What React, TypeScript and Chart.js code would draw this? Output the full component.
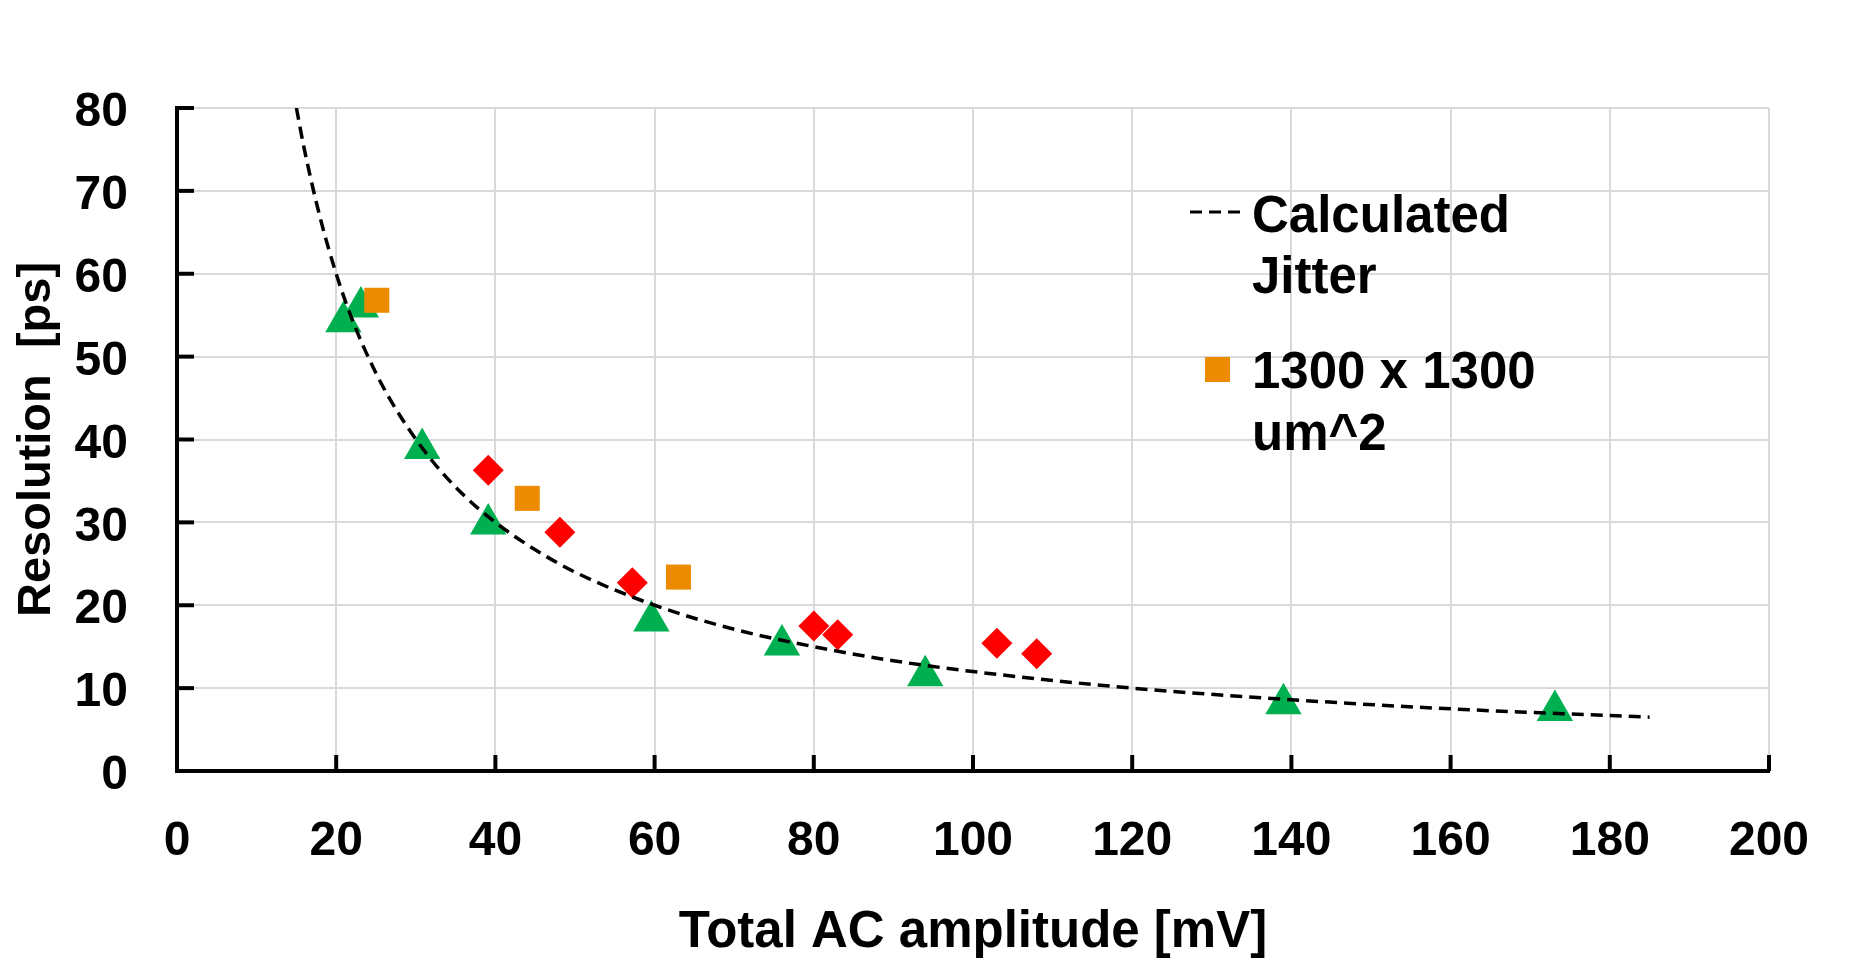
import { useEffect, useRef } from 'react';
import { Chart, registerables } from 'chart.js';

Chart.register(...registerables);

// Calculated jitter curve
const jitterX = [15, 16, 18, 20, 22, 25, 28, 32, 36, 40, 45, 50, 60, 70, 80, 90, 100, 120, 140, 160, 185];
const jitterY = [80, 75, 66.7, 60, 54.5, 48, 42.9, 37.5, 33.3, 30, 26.7, 24, 20, 17.1, 15, 13.3, 12, 10, 8.6, 7.5, 6.5];

// 1300 x 1300 um^2 (orange squares)
const squareX = [25.1, 44.0, 63.0];
const squareY = [56.8, 32.9, 23.4];

// red diamonds
const diamondX = [39.1, 48.1, 57.2, 80.0, 83.0, 103.0, 108.0];
const diamondY = [36.3, 28.8, 22.7, 17.5, 16.45, 15.4, 14.15];

// green triangles
const triangleX = [20.9, 23.1, 30.8, 39.1, 59.6, 76.0, 94.0, 139.0, 173.1];
const triangleY = [54.2, 56.0, 38.9, 29.8, 18.1, 15.2, 11.5, 8.1, 7.3];

const FONT = '"Liberation Sans", Arial, sans-serif';

const toPoints = (xs: number[], ys: number[]) => xs.map((x, i) => ({ x, y: ys[i] }));

// axis tick marks point into the plot, like the original
const innerTicks = {
  id: 'innerTicks',
  afterDatasetsDraw(chart: Chart) {
    const { ctx, chartArea } = chart;
    const xs = chart.scales.x;
    const ys = chart.scales.y;
    ctx.save();
    ctx.strokeStyle = '#000';
    ctx.lineWidth = 4;
    ctx.setLineDash([]);
    ys.ticks.forEach((t) => {
      const py = ys.getPixelForValue(t.value);
      ctx.beginPath();
      ctx.moveTo(chartArea.left, py);
      ctx.lineTo(chartArea.left + 17, py);
      ctx.stroke();
    });
    xs.ticks.forEach((t) => {
      const px = xs.getPixelForValue(t.value);
      ctx.beginPath();
      ctx.moveTo(px, chartArea.bottom);
      ctx.lineTo(px, chartArea.bottom - 16);
      ctx.stroke();
    });
    ctx.restore();
  },
};

const customLegend = {
  id: 'customLegend',
  afterDraw(chart: Chart) {
    const { ctx } = chart;
    ctx.save();
    ctx.font = `bold 51px ${FONT}`;
    ctx.fillStyle = '#000';
    ctx.textAlign = 'left';
    ctx.textBaseline = 'alphabetic';

    ctx.strokeStyle = '#000';
    ctx.lineWidth = 3;
    ctx.setLineDash([12, 7]);
    ctx.beginPath();
    ctx.moveTo(1190, 212);
    ctx.lineTo(1246, 212);
    ctx.stroke();
    ctx.setLineDash([]);
    ctx.fillText('Calculated', 1252, 232);
    ctx.fillText('Jitter', 1252, 293);

    ctx.fillStyle = '#ed8b00';
    ctx.fillRect(1205, 357, 25, 25);
    ctx.fillStyle = '#000';
    ctx.fillText('1300 x 1300', 1252, 388);
    ctx.fillText('um^2', 1252, 450);
    ctx.restore();
  },
};

export default function App() {
  const canvasRef = useRef<HTMLCanvasElement>(null);
  const chartRef = useRef<Chart | null>(null);

  useEffect(() => {
    if (!canvasRef.current) return;
    const ctx = canvasRef.current.getContext('2d');
    if (!ctx) return;

    if (chartRef.current) {
      chartRef.current.destroy();
    }

    Chart.defaults.font.family = FONT;
    Chart.defaults.color = '#000';

    chartRef.current = new Chart(ctx, {
      type: 'scatter',
      data: {
        datasets: [
          {
            label: 'Calculated Jitter',
            data: toPoints(jitterX, jitterY),
            showLine: true,
            borderColor: '#000',
            borderWidth: 3.5,
            borderDash: [12, 7],
            pointRadius: 0,
            cubicInterpolationMode: 'monotone',
            fill: false,
          },
          {
            label: '1300 x 1300 um^2',
            data: toPoints(squareX, squareY),
            pointStyle: 'rect',
            pointRadius: 17.7,
            backgroundColor: '#ed8b00',
            borderWidth: 0,
          },
          {
            label: 'diamonds',
            data: toPoints(diamondX, diamondY),
            pointStyle: 'rectRot',
            pointRadius: 15.5,
            backgroundColor: '#ff0000',
            borderWidth: 0,
          },
          {
            label: 'triangles',
            data: toPoints(triangleX, triangleY),
            pointStyle: 'triangle',
            pointRadius: 21,
            backgroundColor: '#00b050',
            borderWidth: 0,
          },
        ],
      },
      options: {
        animation: false,
        responsive: true,
        maintainAspectRatio: false,
        devicePixelRatio: 1,
        layout: { padding: { top: 108, right: 84, bottom: 0, left: 0 } },
        plugins: {
          legend: { display: false },
          tooltip: { enabled: false },
        },
        scales: {
          x: {
            type: 'linear',
            min: 0,
            max: 200,
            afterFit: (scale) => {
              scale.height = 191;
            },
            grid: { color: '#d9d9d9', lineWidth: 2, drawTicks: false },
            border: { display: true, color: '#000', width: 4 },
            ticks: {
              stepSize: 20,
              padding: 42,
              font: { size: 48, weight: 'bold' },
            },
            title: {
              display: true,
              text: 'Total AC amplitude [mV]',
              font: { size: 51, weight: 'bold' },
              padding: { top: 0, bottom: -2 },
            },
          },
          y: {
            type: 'linear',
            min: 0,
            max: 80,
            afterFit: (scale) => {
              scale.width = 177;
            },
            grid: { color: '#d9d9d9', lineWidth: 2, drawTicks: false },
            border: { display: true, color: '#000', width: 4 },
            ticks: {
              stepSize: 10,
              padding: 49,
              labelOffset: 5,
              font: { size: 48, weight: 'bold' },
            },
            title: {
              display: true,
              text: 'Resolution  [ps]',
              font: { size: 47, weight: 'bold' },
              padding: { top: 9, bottom: 0 },
            },
          },
        },
      },
      plugins: [innerTicks, customLegend],
    });

    return () => {
      if (chartRef.current) {
        chartRef.current.destroy();
        chartRef.current = null;
      }
    };
  }, []);

  return (
    <div style={{ position: 'absolute', left: 0, top: 0, width: 1853, height: 962, background: '#fff' }}>
      <canvas ref={canvasRef} />
    </div>
  );
}
